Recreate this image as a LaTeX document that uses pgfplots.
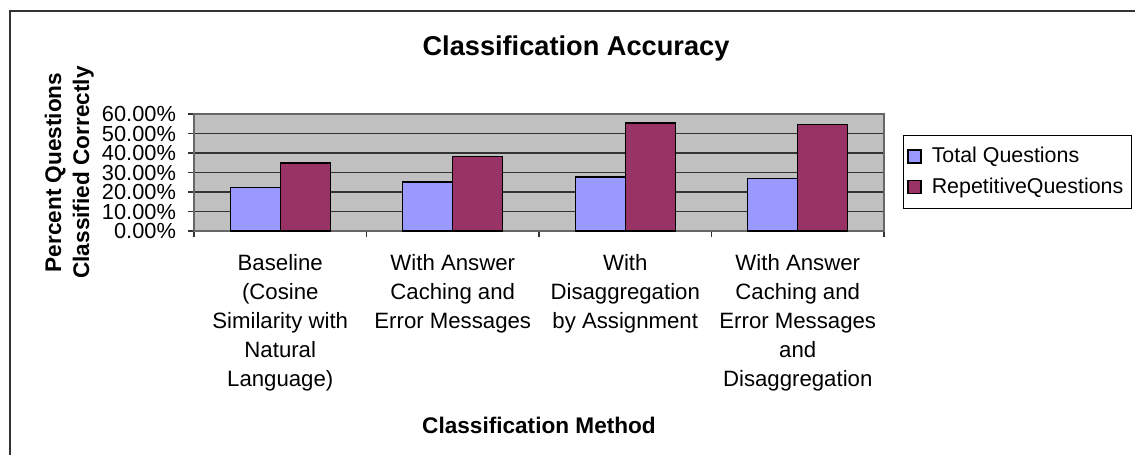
\documentclass[border=0pt]{standalone}
\usepackage{pgfplots}
\pgfplotsset{compat=1.18}
\usepackage{fontspec}
\setmainfont{Liberation Sans}
\definecolor{barblue}{HTML}{9999FF}
\definecolor{barplum}{HTML}{993366}
\definecolor{plotgray}{HTML}{C0C0C0}

\begin{document}
\begin{tikzpicture}
% picture is 1135x455 px at 0.5pt per px
\path[use as bounding box] (0,0) rectangle (567.5pt,-227.5pt);
\draw[line width=1pt, black!80] (5pt,-227.5pt) -- (5pt,-5.5pt) -- (567.5pt,-5.5pt);
\node[anchor=base, font=\fontsize{13.6}{16}\selectfont\bfseries] at (288pt,-27.5pt) {Classification Accuracy};
\begin{axis}[
    at={(97pt,-115.5pt)}, anchor=south west,
    scale only axis, width=345pt, height=58.5pt,
    ybar=0pt, bar width=25pt,
    xmin=-0.5, xmax=3.5, ymin=0, ymax=60,
    axis background/.style={fill=plotgray},
    axis line style={draw=black!60, line width=0.8pt},
    ymajorgrids, grid style={black!80, line width=0.6pt},
    xtick pos=bottom, ytick pos=left,
    ytick={0,10,20,30,40,50,60},
    yticklabels={0.00\%,10.00\%,20.00\%,30.00\%,40.00\%,50.00\%,60.00\%},
    y tick label style={font=\fontsize{10.9}{11}\selectfont, xshift=-2.5pt},
    xtick={0,1,2,3},
    xticklabels={{Baseline\\(Cosine\\Similarity with\\Natural\\Language)},
                 {With Answer\\Caching and\\Error Messages},
                 {With\\Disaggregation\\by Assignment},
                 {With Answer\\Caching and\\Error Messages\\and\\Disaggregation}},
    x tick label style={align=center, font=\fontsize{11.1}{14.5}\selectfont, yshift=-5pt},
    minor xtick={-0.5,0.5,1.5,2.5,3.5},
    tick align=outside,
    major tick length=3pt, minor tick length=3pt,
    major x tick style={draw=none},
    major y tick style={black!80, line width=0.6pt},
    minor x tick style={black!80, line width=0.6pt},
    xlabel={Classification Method},
    xlabel style={at={([yshift=-101pt]axis description cs:0.5,0)}, anchor=base,
        font=\fontsize{11.3}{14}\selectfont\bfseries},
    ylabel={Percent Questions\\Classified Correctly},
    ylabel style={at={([xshift=-46.5pt]axis description cs:0,0.5)}, anchor=south,
        align=center, font=\fontsize{11.3}{14}\selectfont\bfseries},
    legend style={at={(1.0275,0.8205)}, anchor=north west, draw=black,
        font=\fontsize{10.7}{12}\selectfont, row sep=2pt, inner ysep=4pt, inner xsep=2pt},
    legend cell align=left,
    legend image code/.code={\draw[#1] (0pt,-3.25pt) rectangle (6.5pt,3.25pt); \path (9.5pt,0pt);},
]
\addplot[fill=barblue, draw=black, line width=0.7pt] coordinates {
    (0,22.2) (1,25.1) (2,27.7) (3,26.8)
};
\addplot[fill=barplum, draw=black, line width=0.7pt] coordinates {
    (0,34.9) (1,38.3) (2,55.3) (3,54.5)
};
\legend{Total Questions, RepetitiveQuestions}
\end{axis}
\end{tikzpicture}
\end{document}
